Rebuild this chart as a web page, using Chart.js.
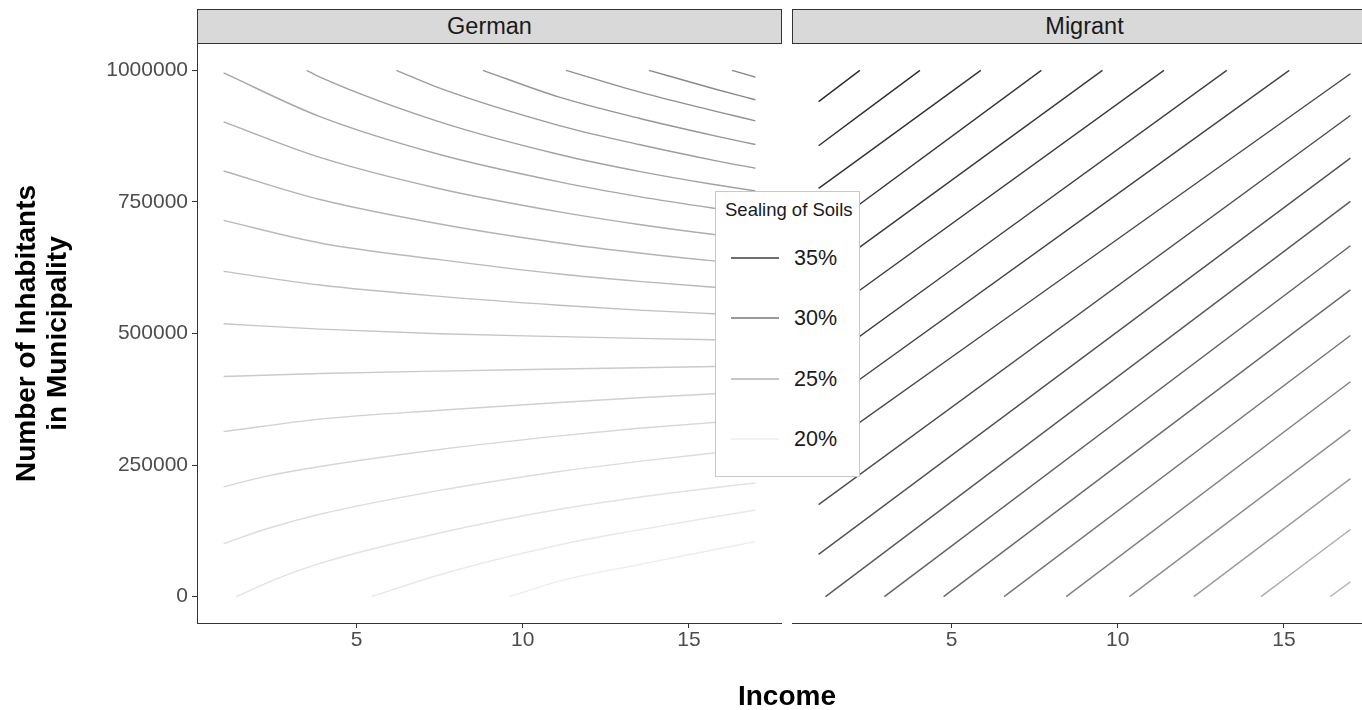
<!DOCTYPE html>
<html>
<head>
<meta charset="utf-8">
<script src="https://cdn.jsdelivr.net/npm/chart.js@4.4.1/dist/chart.umd.min.js"></script>
<style>
html,body{margin:0;padding:0;background:#fff;overflow:hidden;width:1362px;height:710px;}
body{position:relative;font-family:"Liberation Sans",Arial,Helvetica,sans-serif;}
.panel{position:absolute;top:0;height:710px;}
.strip{position:absolute;top:9px;height:33px;background:#d9d9d9;border:1px solid #333;text-align:center;line-height:33px;font-size:23.5px;color:#1a1a1a;}
#xtitle{position:absolute;left:587px;width:400px;top:680px;height:32px;line-height:32px;text-align:center;font-weight:bold;font-size:28px;color:#000;}
#legend{position:absolute;left:715px;top:191px;width:143px;height:284px;background:#fff;border:1px solid #c8c8c8;z-index:5;}
#legend .ttl{position:absolute;left:9px;top:8px;font-size:18.5px;line-height:20px;color:#1a1a1a;white-space:nowrap;}
#legend .item{position:absolute;left:0;width:143px;height:30px;}
#legend svg{position:absolute;left:15px;top:0;}
#legend .lab{position:absolute;left:78px;top:0;height:30px;line-height:30px;font-size:21.5px;color:#1a1a1a;}
</style>
</head>
<body>
<div class="panel" style="left:0;width:782px;"><canvas id="cGerman"></canvas></div>
<div class="panel" style="left:792px;width:585px;"><canvas id="cMigrant"></canvas></div>
<div class="strip" style="left:197px;width:583px;">German</div>
<div class="strip" style="left:792px;width:583px;">Migrant</div>
<div id="xtitle">Income</div>
<div id="legend"><div class="ttl">Sealing of Soils</div></div>
<script>
// ---- axis ticks ----
const incomeTicks = [5, 10, 15];
const inhabitantTicks = [0, 250000, 500000, 750000, 1000000];
const legendLevels = [35, 30, 25, 20];
const legendLabels = ['35%', '30%', '25%', '20%'];

// ---- German panel: contour levels (% sealed) and contour paths [income, inhabitants] ----
const germanLevels = [29, 28.5, 28, 27.5, 27, 26.5, 26, 25.5, 25, 24.5, 24, 23.5, 23, 22.5, 22, 21.5, 21, 20.5, 20];
const german290 = [[16.3,1000000],[17,987000]];
const german285 = [[13.8,1000000],[15.75,965000],[17,944000]];
const german280 = [[11.3,1000000],[13.5,959000],[15.75,923000],[17,904000]];
const german275 = [[8.8,1000000],[11.1,949000],[13.5,909000],[15.75,876000],[17,859000]];
const german270 = [[6.2,1000000],[7.5,966000],[11.1,895000],[13.5,859000],[15.75,829000],[17,814000]];
const german265 = [[3.5,1000000],[3.9,987000],[7.5,902000],[11.1,840000],[13.5,808000],[15.75,783000],[17,771000]];
const german260 = [[1,995000],[3.9,912000],[7.5,840000],[11.1,788000],[13.5,760000],[15.75,738000],[17,727000]];
const german255 = [[1,902000],[3.9,834500],[7.5,775000],[11.1,731000],[13.5,707000],[15.75,688000],[17,679000]];
const german250 = [[1,808700],[3.9,754500],[7.5,708000],[11.1,672000],[13.5,653000],[15.75,638000],[17,631000]];
const german245 = [[1,714800],[3.9,672000],[7.5,640300],[11.1,613000],[13.5,599000],[15.75,588000],[17,583000]];
const german240 = [[1,618000],[3.9,592200],[7.5,570600],[11.1,553800],[13.5,544500],[15.75,537500],[17,534000]];
const german235 = [[1,518500],[3.9,508300],[7.5,499600],[11.1,494100],[13.5,490700],[15.75,488000],[17,486800]];
const german230 = [[1,418400],[3.9,423900],[7.5,428600],[11.1,432500],[13.5,435000],[15.75,437200],[17,438400]];
const german225 = [[1,313600],[3.9,337300],[7.5,354200],[11.1,369000],[13.5,378000],[15.75,385500],[17,389500]];
const german220 = [[1,208700],[2.3,229000],[3.9,247300],[7.5,279700],[11.1,305600],[13.5,320000],[15.75,331000],[17,336500]];
const german215 = [[1,100600],[2.3,129000],[3.9,156600],[7.5,201900],[11.1,237900],[13.5,257000],[15.75,273000],[17,281000]];
const german210 = [[1.38,0],[2.5,31500],[3.9,63300],[7.5,121000],[11.1,166000],[13.5,189000],[15.75,207000],[17,216000]];
const german205 = [[5.45,0],[7.5,41700],[11.1,98500],[13.5,127000],[17,164800]];
const german200 = [[9.6,0],[11.1,29500],[13.5,61000],[17,104700]];

// ---- Migrant panel ----
const migrantLevels = [36.6, 36.3, 36, 35.7, 35.4, 35.1, 34.8, 34.5, 34.1, 33.7, 33.3, 32.8, 32.1, 31.3, 30.4, 29.4, 28.3, 27.1, 25.8, 24.4];
const migrantA = [[1,940500],[2.24,1000000]];
const migrantB = [[1,856800],[4.05,1000000]];
const migrantC = [[1,775600],[5.88,1000000]];
const migrantD = [[1,688100],[7.7,1000000]];
const migrantE = [[1,607000],[9.54,1000000]];
const migrantF = [[1,525700],[11.39,1000000]];
const migrantG = [[1,437900],[13.28,1000000]];
const migrantH = [[1,356600],[15.16,1000000]];
const migrantI = [[1,275600],[17,993400]];
const migrantJ = [[1,175000],[17,914200]];
const migrantK = [[1,80300],[17,833100]];
const migrantL = [[1.21,0],[17,751100]];
const migrantM = [[2.98,0],[17,666700]];
const migrantN = [[4.76,0],[17,582800]];
const migrantO = [[6.58,0],[17,496200]];
const migrantP = [[8.45,0],[17,408300]];
const migrantQ = [[10.35,0],[17,317000]];
const migrantR = [[12.29,0],[17,224200]];
const migrantS = [[14.31,0],[17,127600]];
const migrantT = [[16.39,0],[17,28200]];

const germanLines = [german290, german285, german280, german275, german270, german265, german260, german255, german250, german245, german240, german235, german230, german225, german220, german215, german210, german205, german200];
const migrantLines = [migrantA, migrantB, migrantC, migrantD, migrantE, migrantF, migrantG, migrantH, migrantI, migrantJ, migrantK, migrantL, migrantM, migrantN, migrantO, migrantP, migrantQ, migrantR, migrantS, migrantT];

function levelColor(l) {
  const g = Math.round(Math.max(0, Math.min(255, 255 - 11.7 * (l - 18.5))));
  return 'rgb(' + g + ',' + g + ',' + g + ')';
}

const FONT = 'Liberation Sans, Arial, sans-serif';

function makeChart(id, lines, levels, showY) {
  return new Chart(document.getElementById(id), {
    type: 'line',
    data: {
      datasets: lines.map((pts, i) => ({
        data: pts.map(p => ({x: p[0], y: p[1]})),
        borderColor: levelColor(levels[i]),
        borderWidth: 1.4,
        pointRadius: 0,
        fill: false,
        cubicInterpolationMode: 'monotone'
      }))
    },
    options: {
      responsive: true,
      maintainAspectRatio: false,
      animation: false,
      events: [],
      layout: {padding: {top: 44, left: 0, right: 0, bottom: 0}},
      plugins: {legend: {display: false}, tooltip: {enabled: false}},
      scales: {
        x: {
          type: 'linear', min: 0.2, max: 17.8,
          afterBuildTicks: s => { s.ticks = incomeTicks.map(v => ({value: v})); },
          afterFit: s => { s.height = 87; },
          grid: {display: true, drawOnChartArea: false, drawTicks: true, tickLength: 5, color: '#333', tickColor: '#333'},
          border: {display: true, color: '#333', width: 1},
          ticks: {color: '#4d4d4d', font: {family: FONT, size: 21}, padding: 0, maxRotation: 0, autoSkip: false, callback: v => String(v)}
        },
        y: {
          type: 'linear', display: showY, min: -50000, max: 1050000,
          afterBuildTicks: s => { s.ticks = inhabitantTicks.map(v => ({value: v})); },
          afterFit: s => { if (showY) s.width = 197; },
          grid: {display: true, drawOnChartArea: false, drawTicks: true, tickLength: 5, color: '#333', tickColor: '#333'},
          border: {display: true, color: '#333', width: 1},
          ticks: {color: '#4d4d4d', font: {family: FONT, size: 21}, padding: 4, autoSkip: false, callback: v => String(v)},
          title: {display: true, text: ['Number of Inhabitants', 'in Municipality'], color: '#000',
                  font: {family: FONT, size: 28, weight: 'bold', lineHeight: 1.1}, padding: {top: 12, bottom: 0}}
        }
      }
    }
  });
}

makeChart('cGerman', germanLines, germanLevels, true);
makeChart('cMigrant', migrantLines, migrantLevels, false);

// legend entries
const legendTops = [51, 111, 172, 232];
const lg = document.getElementById('legend');
legendLevels.forEach((lv, i) => {
  const it = document.createElement('div');
  it.className = 'item';
  it.style.top = legendTops[i] + 'px';
  it.innerHTML = '<svg width="50" height="30"><line x1="0" y1="15" x2="48" y2="15" stroke="' + levelColor(lv) + '" stroke-width="1.4"/></svg><div class="lab">' + legendLabels[i] + '</div>';
  lg.appendChild(it);
});
</script>
</body>
</html>
